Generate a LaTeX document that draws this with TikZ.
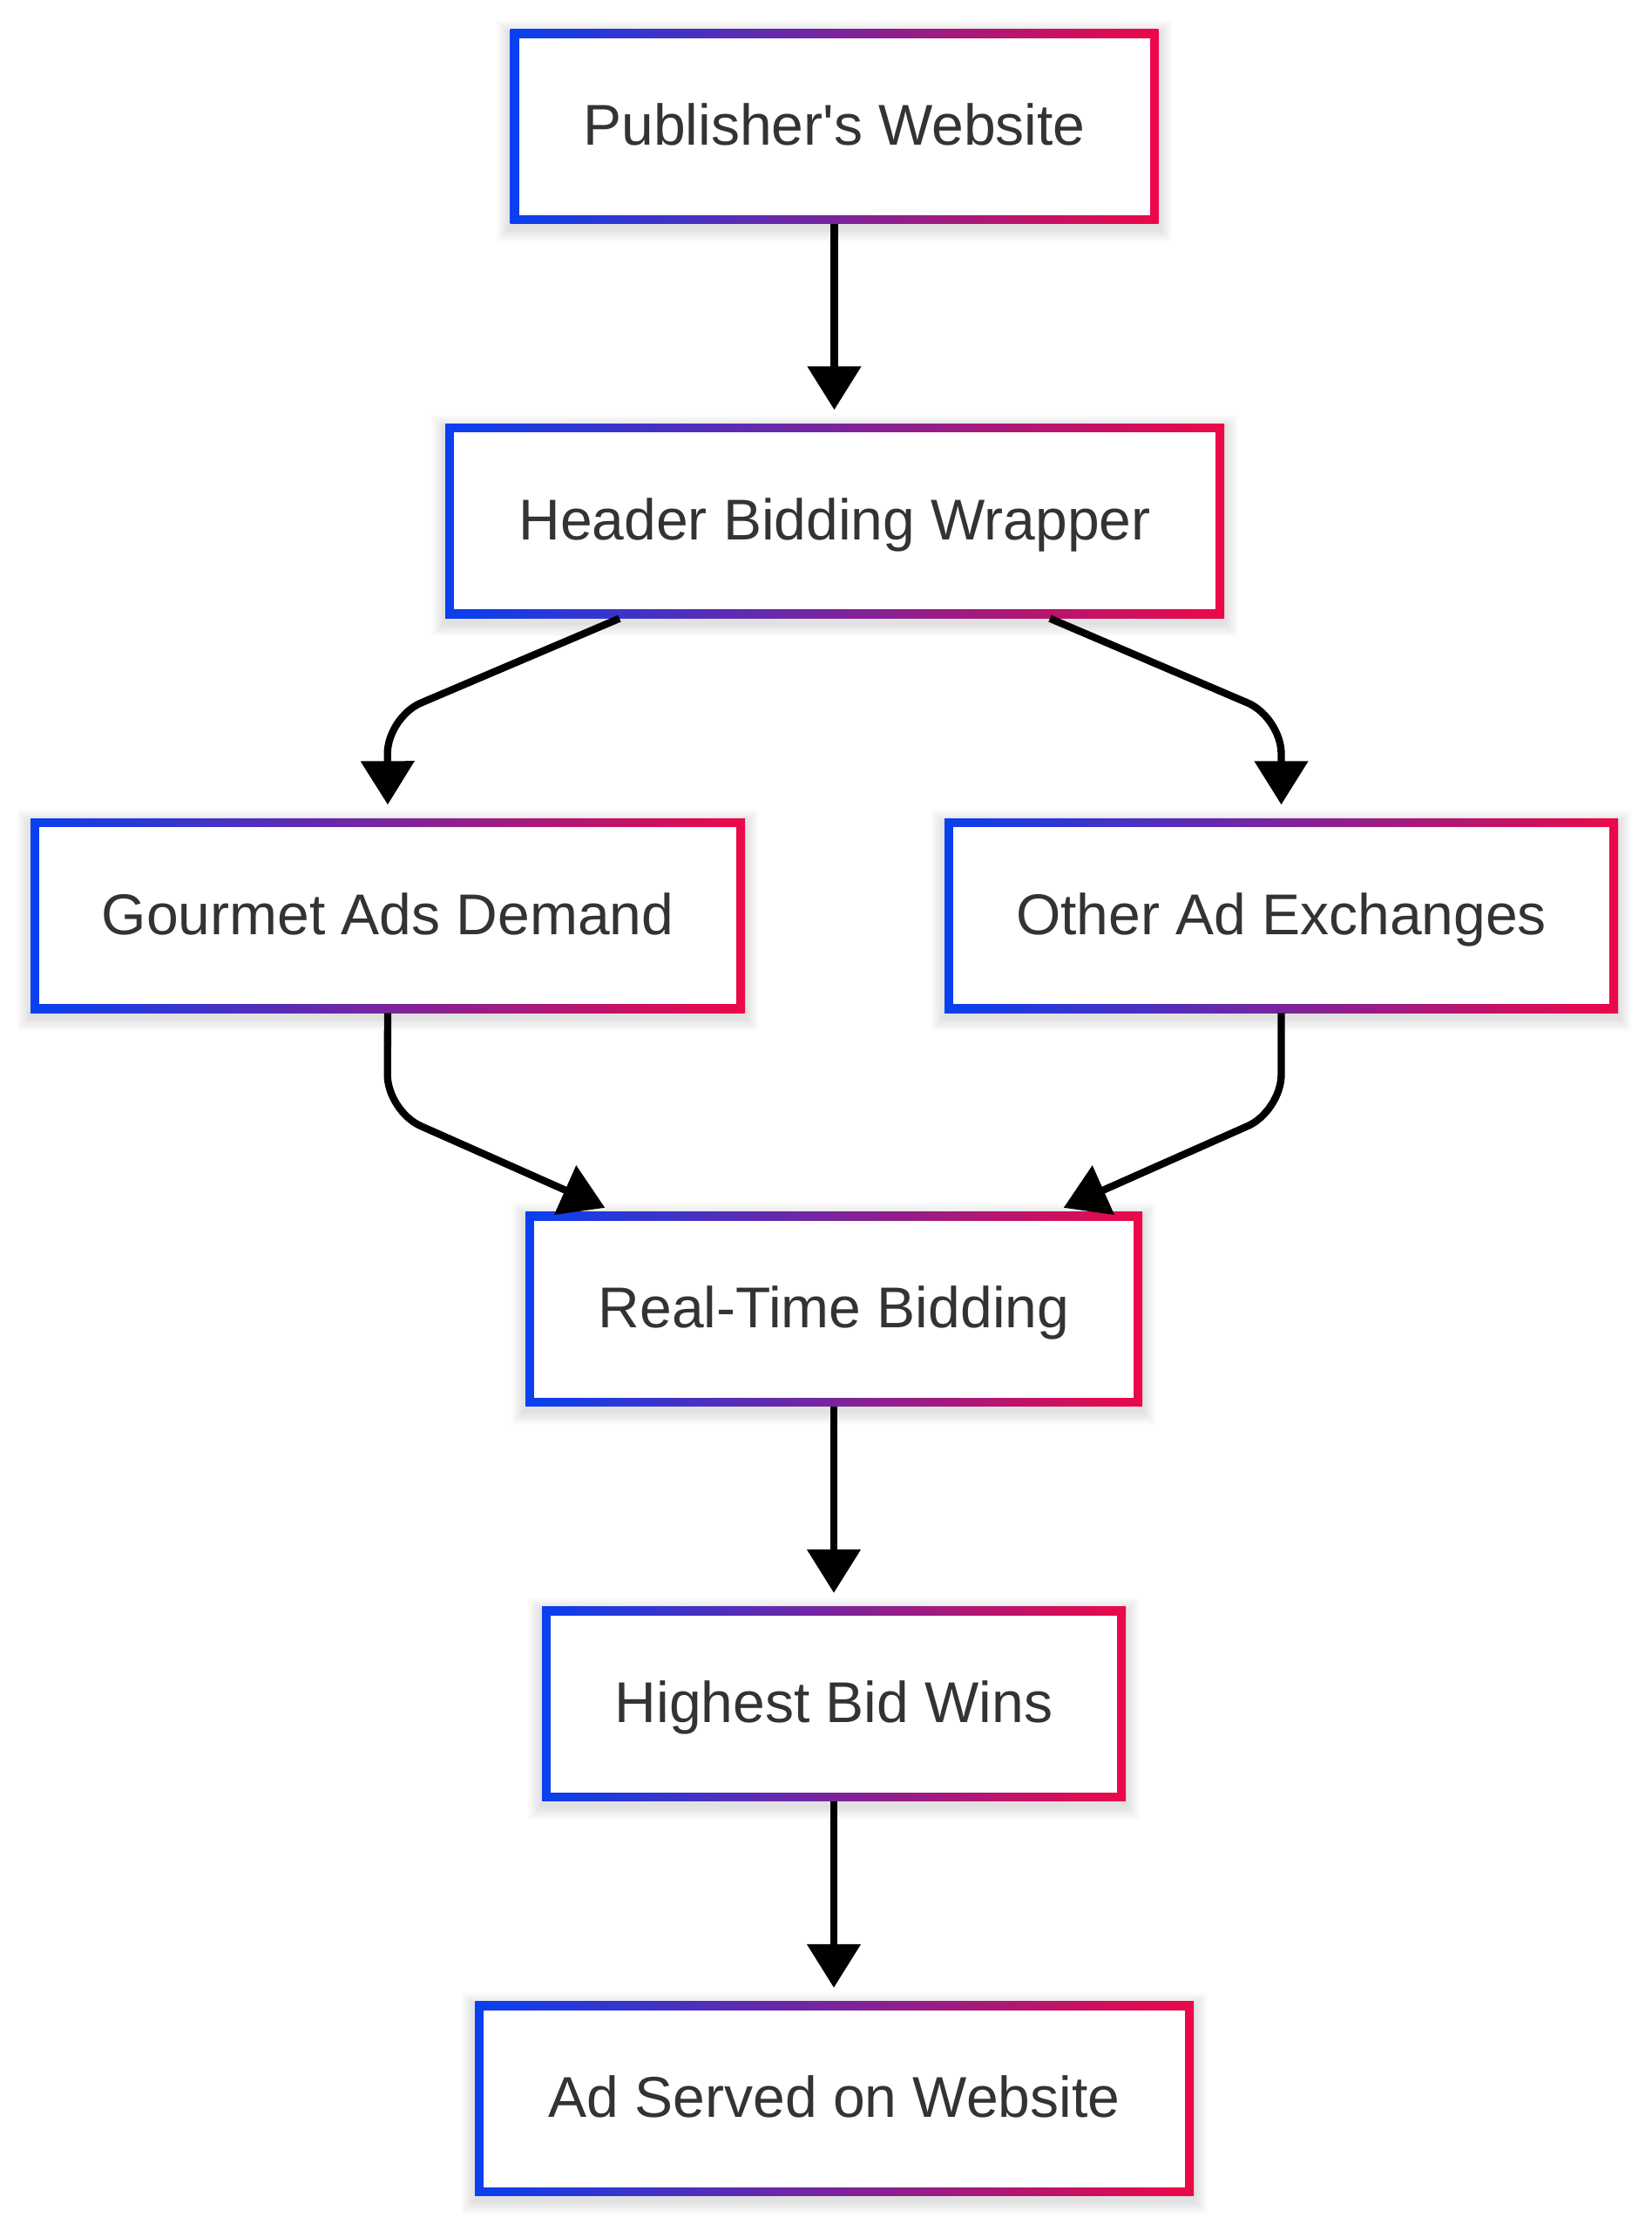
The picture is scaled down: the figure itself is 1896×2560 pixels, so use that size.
\documentclass[tikz,border=0pt]{standalone}
\usepackage{fontspec}
\setmainfont{Liberation Sans}
\usetikzlibrary{arrows.meta,backgrounds}
\definecolor{gblue}{RGB}{8,64,240}
\definecolor{gred}{RGB}{236,8,72}
\definecolor{txtgray}{HTML}{333333}
\tikzset{
  gbox/.style={rectangle, inner sep=0pt, minimum height=66.9pt,
    left color=gblue, right color=gred, draw=none, text=txtgray,
    font=\fontsize{19.8pt}{23pt}\selectfont, text height=14.1pt, text depth=1.2pt,
    path picture={\fill[white] ([shift={(3pt,-3pt)}]path picture bounding box.north west)
      rectangle ([shift={(-3pt,3pt)}]path picture bounding box.south east);}},
  conn/.style={line width=2.5pt, draw=black, -{Triangle[length=15pt,width=18pt]}},
  shadowlayer/.style={fill=black, fill opacity=0.013},
}
\begin{document}
\begin{tikzpicture}[x=0.3pt, y=-0.3pt]
\useasboundingbox (0,0) rectangle (1896,2560);

\node[gbox, minimum width=223.2pt] (pub) at (957.5,145) {Publisher\textquotesingle s Website};
\node[gbox, minimum width=268.2pt] (hbw) at (958,597.5) {Header Bidding Wrapper};
\node[gbox, minimum width=246pt] (gad) at (445,1050.5) {Gourmet Ads Demand};
\node[gbox, minimum width=231.9pt] (oae) at (1470.5,1050.5) {Other Ad Exchanges};
\node[gbox, minimum width=212.4pt] (rtb) at (957,1502) {Real-Time Bidding};
\node[gbox, minimum width=201pt] (hbwins) at (957,1955) {Highest Bid Wins};
\node[gbox, minimum width=247.5pt] (ads) at (957.5,2408) {Ad Served on Website};

\begin{scope}[on background layer]
\fill[white] (0,0) rectangle (1896,2560);
\foreach \n in {pub,hbw,gad,oae,rtb,hbwins,ads}{
  \foreach \k in {1,...,10}{
    \fill[shadowlayer] ([shift={(-\k*0.45pt,\k*0.45pt-1.6pt)}]\n.north west)
      rectangle ([shift={(\k*0.45pt,-\k*0.45pt-1.6pt)}]\n.south east);
  }
}
\end{scope}

\coordinate (lb1) at (444.5,823);
\coordinate (rb1) at (1470.5,823);
\coordinate (lb2) at (444.5,1275);
\coordinate (rb2) at (1470.5,1275);

\draw[conn, shorten >=4.5pt] (pub.south) -- (pub.south |- hbw.north);
\draw[conn, rounded corners=12.6pt] ([xshift=-74.1pt]hbw.south) -- (lb1) -- ([yshift=4.5pt]gad.north);
\draw[conn, rounded corners=12.6pt] ([xshift=74.1pt]hbw.south) -- (rb1) -- ([yshift=4.5pt]oae.north);
\draw[conn, rounded corners=12.6pt] (gad.south) -- (lb2) -- ([xshift=27.6pt,yshift=1.2pt]rtb.north west);
\draw[conn, rounded corners=12.6pt] (oae.south) -- (rb2) -- ([xshift=-27.3pt,yshift=1.2pt]rtb.north east);
\draw[conn, shorten >=4.5pt] (rtb.south) -- (rtb.south |- hbwins.north);
\draw[conn, shorten >=4.5pt] (hbwins.south) -- (hbwins.south |- ads.north);
\end{tikzpicture}
\end{document}
